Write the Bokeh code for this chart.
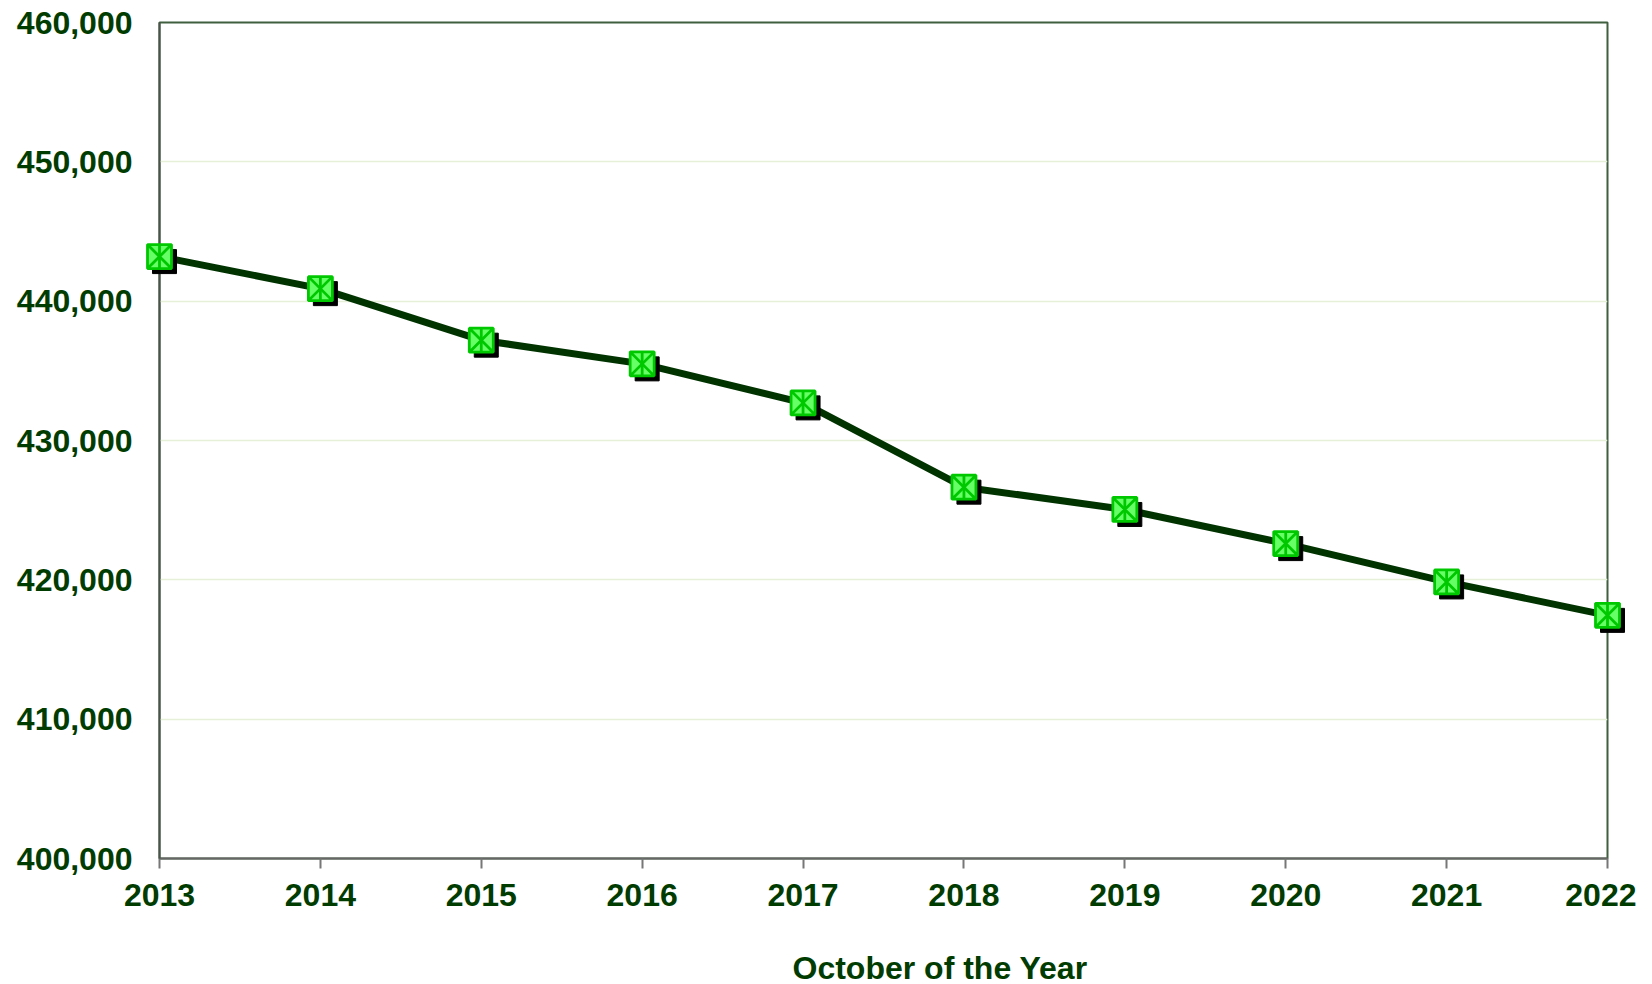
from bokeh.plotting import figure
from bokeh.models import Range1d, FixedTicker, NumeralTickFormatter, ColumnDataSource, Label
from bokeh.transform import dodge
from bokeh.embed import file_html
from bokeh.resources import INLINE

years = [2013, 2014, 2015, 2016, 2017, 2018, 2019, 2020, 2021, 2022]
values = [443200, 440900, 437200, 435500, 432700, 426650, 425050, 422600, 419850, 417450]
y_ticks = [400000, 410000, 420000, 430000, 440000, 450000, 460000]
x_label = "October of the Year"

W, H = 1636, 984
ML, MR, MT, MB = 159, 29, 22, 126
XMIN, XMAX, YMIN, YMAX = 2013, 2022, 400000, 460000

p = figure(width=W, height=H, output_backend="svg", toolbar_location=None,
           x_range=Range1d(XMIN, XMAX), y_range=Range1d(YMIN, YMAX),
           min_border_left=ML, min_border_right=MR, min_border_top=MT, min_border_bottom=MB)
p.background_fill_color = "white"
p.border_fill_color = "white"
p.outline_line_color = "#3f5f3f"
p.outline_line_width = 2

src = ColumnDataSource(dict(x=years, y=values))

# shadow offset of ~5 px converted into data units
fw, fh = W - ML - MR, H - MT - MB
dx = 5 * (XMAX - XMIN) / fw
dy = -5 * (YMAX - YMIN) / fh

p.line("x", "y", source=src, line_color="#003300", line_width=7)
p.scatter(dodge("x", dx), dodge("y", dy), source=src, marker="square", size=24,
          fill_color="black", line_color="black", level="overlay")
p.scatter("x", "y", source=src, marker="square_x", size=24, fill_color="#66ff66",
          line_color="#00c800", line_width=2.8, level="overlay")
p.scatter("x", "y", source=src, marker="dash", angle=1.5708, size=24,
          line_color="#00c800", line_width=2.8, level="overlay")

font = "Liberation Sans"
tc = "#003c00"

p.xaxis.ticker = FixedTicker(ticks=years)
p.xaxis.formatter = NumeralTickFormatter(format="0")
p.xaxis.axis_line_color = "#666666"
p.xaxis.axis_line_width = 2
p.xaxis.major_tick_line_color = "#777777"
p.xaxis.major_tick_line_width = 2
p.xaxis.major_tick_out = 10
p.xaxis.major_tick_in = 0
p.xaxis.minor_tick_line_color = None
p.xaxis.major_label_standoff = 15

p.yaxis.ticker = FixedTicker(ticks=y_ticks)
p.yaxis.formatter = NumeralTickFormatter(format="0,0")
p.yaxis.axis_line_color = "#4a524a"
p.yaxis.axis_line_width = 2
p.yaxis.major_tick_line_color = None
p.yaxis.minor_tick_line_color = None
p.yaxis.major_tick_out = 0
p.yaxis.major_tick_in = 0
p.yaxis.major_label_standoff = 27

for ax in (p.xaxis, p.yaxis):
    ax.major_label_text_font = font
    ax.major_label_text_font_style = "bold"
    ax.major_label_text_font_size = "32px"
    ax.major_label_text_color = tc

p.add_layout(Label(x=XMIN, y=YMIN, x_offset=633, y_offset=-109, text=x_label,
                   text_align="left", text_baseline="middle",
                   text_font=font, text_font_style="bold", text_font_size="32px",
                   text_color=tc), "below")

p.xgrid.grid_line_color = None
p.ygrid.ticker = FixedTicker(ticks=y_ticks)
p.ygrid.grid_line_color = "#e6efd8"
p.ygrid.grid_line_width = 1.5

open("out.html", "w").write(file_html(p, INLINE))
